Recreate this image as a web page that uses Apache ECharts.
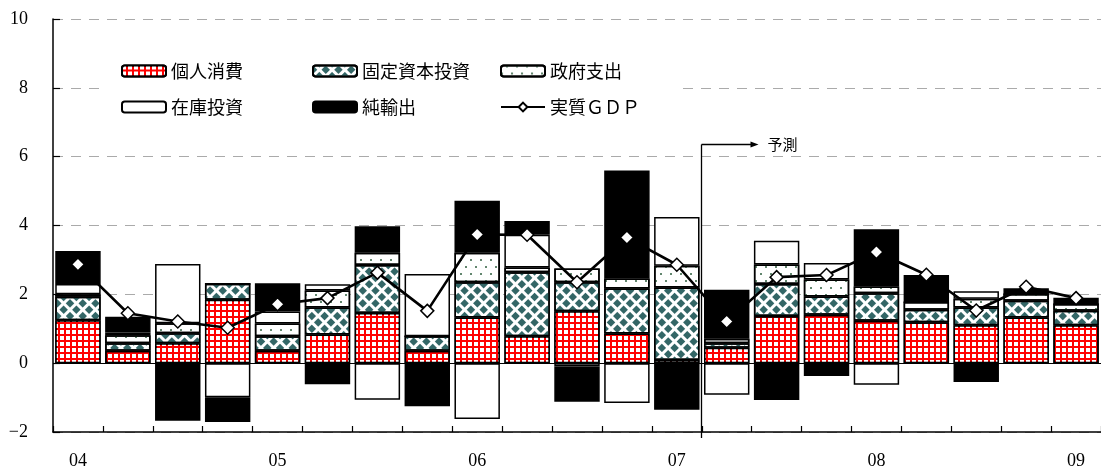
<!DOCTYPE html>
<html>
<head>
<meta charset="utf-8">
<script src="https://cdn.jsdelivr.net/npm/echarts@6/dist/echarts.min.js"></script>
<style>
  html, body { margin: 0; padding: 0; background: #fff; }
  #main { width: 1101px; height: 470px; }
</style>
</head>
<body>
<div id="main"></div>
<script>
// Quarterly contributions to real GDP growth (percentage points), 2004Q1 - 2009Q1
const quarters = ['04Q1','04Q2','04Q3','04Q4','05Q1','05Q2','05Q3','05Q4',
                  '06Q1','06Q2','06Q3','06Q4','07Q1','07Q2','07Q3','07Q4',
                  '08Q1','08Q2','08Q3','08Q4','09Q1'];
const yearTicks = ['04','05','06','07','08','09'];

const consumption = [1.25, 0.36, 0.58, 1.84, 0.36, 0.83, 1.46, 0.36, 1.33, 0.78, 1.51,
                     0.86, 0.09, 0.45, 1.37, 1.41, 1.23, 1.19, 1.10, 1.33, 1.10];
const fixedInvestment = [0.68, 0.22, 0.29, 0.47, 0.42, 0.79, 1.39, 0.42, 1.02, 1.86, 0.84,
                         1.31, 2.11, 0.13, 0.93, 0.53, 0.80, 0.36, 0.52, 0.48, 0.42];
const government = [0.07, 0.23, 0.29, 0.00, 0.37, 0.49, 0.36, 0.00, 0.86, 0.14, 0.40,
                    0.29, 0.63, 0.13, 0.57, 0.49, 0.20, 0.23, 0.25, 0.20, 0.20];
const inventory = [0.30, 0.08, 1.72, -0.99, 0.35, 0.18, -1.06, 1.81, -1.62, 0.95, -0.10,
                   -1.16, 1.42, -0.92, 0.69, 0.48, -0.63, 0.00, 0.22, 0.00, 0.00];
const netExports = [0.96, 0.46, -1.67, -0.72, 0.82, -0.61, 0.77, -1.25, 1.51, 0.40, -1.02,
                    3.14, -1.35, 1.42, -1.07, -0.37, 1.66, 0.78, -0.55, 0.17, 0.18];
const realGdp = [2.87, 1.45, 1.21, 1.03, 1.71, 1.89, 2.63, 1.52, 3.74, 3.73, 2.35,
                 3.65, 2.86, 1.21, 2.50, 2.56, 3.23, 2.57, 1.53, 2.22, 1.89];

const names = ['個人消費', '固定資本投資', '政府支出', '在庫投資', '純輸出', '実質ＧＤＰ'];
const forecastLabel = '予測';

const serif = '"Liberation Serif", "DejaVu Serif", serif';
const jp = '"Noto Sans CJK JP", "Noto Sans", sans-serif';

// fill patterns
const gridDecal = { symbol: 'rect', color: '#ffffff', dashArrayX: [4, 2], dashArrayY: [4, 2],
                    symbolSize: 1, rotation: 0 };
const diamondDecal = { symbol: 'rect', color: '#336666', dashArrayX: [6, 3], dashArrayY: [6, 3],
                       symbolSize: 1, rotation: Math.PI / 4 };
const dotDecal = { symbol: 'circle', color: '#2f5f3f', dashArrayX: [[2, 8], [0, 5, 2, 3]],
                   dashArrayY: [2, 5], symbolSize: 1, rotation: 0 };

function barSeries(name, data, color, decal) {
  const itemStyle = { color: color, borderColor: '#000', borderWidth: 1.5 };
  if (decal) itemStyle.decal = decal;
  return {
    name: name, type: 'bar', stack: 'contrib', data: data,
    barCategoryGap: '9%', itemStyle: itemStyle, z: 2,
    emphasis: { disabled: true }
  };
}

const legendBase = {
  orient: 'horizontal', padding: 0, itemGap: 0, itemWidth: 44, itemHeight: 11,
  selectedMode: false,
  textStyle: { fontFamily: jp, fontSize: 18, color: '#000' }
};
const legendPos = [[121, 62], [312, 62], [500, 62], [121, 98], [312, 98], [500, 98]];

const chart = echarts.init(document.getElementById('main'), null, { renderer: 'canvas' });

const consumptionSeries = barSeries(names[0], consumption, '#ff0000', gridDecal);
consumptionSeries.markLine = {
  silent: true, symbol: 'none', animation: false,
  label: { show: false },
  lineStyle: { color: '#000', type: 'solid', width: 1.2 },
  data: [{ yAxis: 0 }]
};

const option = {
  animation: false,
  backgroundColor: '#fff',
  grid: { left: 53, top: 19, height: 417, width: 1056, containLabel: false },
  legend: names.map((n, i) => Object.assign({}, legendBase, {
    data: [n], left: legendPos[i][0], top: legendPos[i][1]
  })),
  xAxis: {
    type: 'category', data: quarters, boundaryGap: true, position: 'bottom',
    axisLine: { onZero: false, lineStyle: { color: '#000', width: 1.5 } },
    axisTick: { show: true, inside: true, length: 6, interval: 0,
                lineStyle: { color: '#000', width: 1.2 } },
    axisLabel: {
      interval: 0, margin: 20, color: '#000', fontFamily: serif, fontSize: 18,
      formatter: (v, i) => (i % 4 === 0 ? yearTicks[i / 4] : '')
    },
    splitLine: { show: false }
  },
  yAxis: {
    type: 'value', min: -2, max: 10, interval: 2,
    axisLine: { show: true, lineStyle: { color: '#000', width: 1.5 } },
    axisTick: { show: true, inside: true, length: 7, lineStyle: { color: '#000', width: 1.2 } },
    axisLabel: {
      margin: 25, color: '#000', fontFamily: serif, fontSize: 18,
      formatter: v => (v < 0 ? '\u2212' + (-v) : String(v))
    },
    splitLine: { show: true, lineStyle: { color: '#aaaaaa', type: [10, 8], width: 1 } }
  },
  series: [
    consumptionSeries,
    barSeries(names[1], fixedInvestment, '#ffffff', diamondDecal),
    barSeries(names[2], government, '#ffffff', dotDecal),
    barSeries(names[3], inventory, '#ffffff', null),
    barSeries(names[4], netExports, '#000000', null),
    {
      name: names[5], type: 'line', data: realGdp, z: 5,
      symbol: 'diamond', symbolSize: 13,
      lineStyle: { color: '#000', width: 2.6 },
      itemStyle: { color: '#ffffff', borderColor: '#000', borderWidth: 1.5 },
      emphasis: { disabled: true }
    }
  ]
};

chart.setOption(option);

// Forecast marker: vertical rule between 07Q1 and 07Q2 with an arrow and label
const xa = chart.convertToPixel({ xAxisIndex: 0 }, quarters[12]);
const xb = chart.convertToPixel({ xAxisIndex: 0 }, quarters[13]);
const xSplit = Math.round((xa + xb) / 2) - 0.5;
const yArrow = Math.round(chart.convertToPixel({ yAxisIndex: 0 }, 6.37)) + 0.5;
const yBase = chart.convertToPixel({ yAxisIndex: 0 }, -2);

chart.setOption({
  graphic: [
    { type: 'rect', z: 1, silent: true,
      shape: { x: 107, y: 45, width: 576, height: 85 },
      style: { fill: '#ffffff' } },
    { type: 'line', z: 10, silent: true,
      shape: { x1: xSplit, y1: yArrow, x2: xSplit, y2: yBase + 6 },
      style: { stroke: '#000', lineWidth: 1.3 } },
    { type: 'line', z: 10, silent: true,
      shape: { x1: xSplit, y1: yArrow, x2: xSplit + 50, y2: yArrow },
      style: { stroke: '#000', lineWidth: 1.3 } },
    { type: 'polygon', z: 10, silent: true,
      shape: { points: [[xSplit + 57, yArrow], [xSplit + 49, yArrow - 3], [xSplit + 49, yArrow + 3]] },
      style: { fill: '#000' } },
    { type: 'text', z: 10, silent: true,
      x: xSplit + 66, y: yArrow,
      style: { text: forecastLabel, fill: '#000', font: '15px ' + jp,
               verticalAlign: 'middle', align: 'left' } }
  ]
});
</script>
</body>
</html>
